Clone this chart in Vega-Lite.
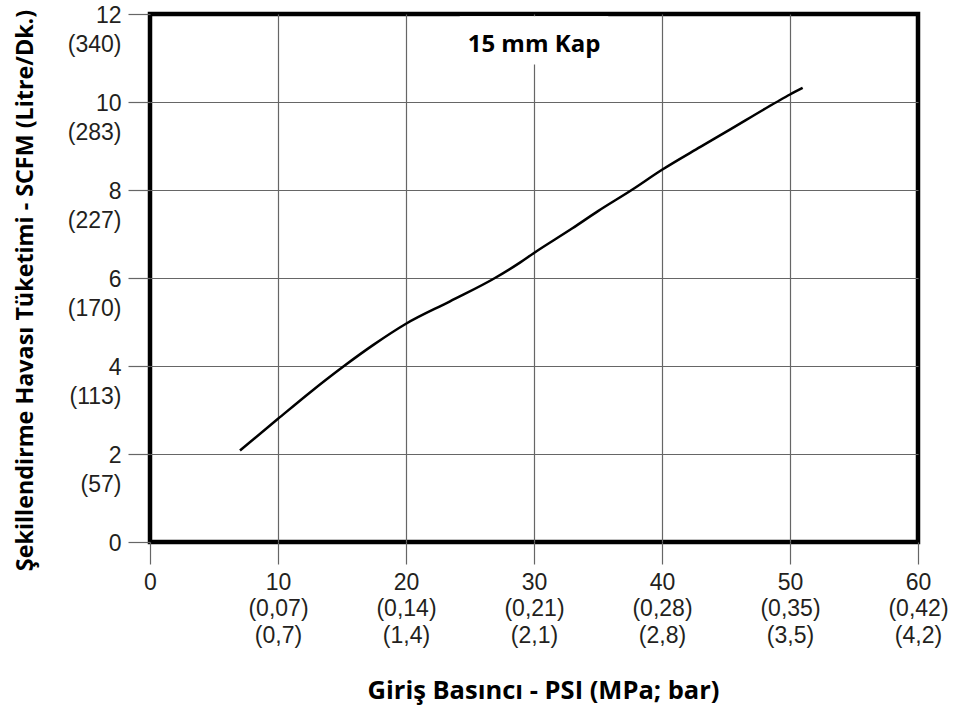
{
  "$schema": "https://vega.github.io/schema/vega-lite/v6.json",
  "width": 768,
  "height": 528,
  "autosize": {"type": "none"},
  "padding": {"left": 150, "top": 14, "right": 44, "bottom": 169},
  "background": "white",
  "config": {
    "view": {"stroke": "#000000", "strokeWidth": 4.5},
    "axis": {
      "gridColor": {"condition": {"test": "datum.value == 0 || datum.value == 60 || datum.value == 12", "value": "transparent"}, "value": "#666666"},
      "gridWidth": 1.2,
      "gridOpacity": 1,
      "tickColor": "#666666",
      "tickWidth": 1.2,
      "tickSize": 22,
      "domain": false,
      "labelFont": "Liberation Sans",
      "labelFontSize": 23,
      "labelColor": "#231f20",
      "titleFont": "Open Sans",
      "titleFontWeight": "bold",
      "titleColor": "#000000"
    }
  },
  "layer": [
    {
      "data": {"values": [{"x1": 24.2, "x2": 35.8, "y1": 10.85, "y2": 11.95}]},
      "mark": {"type": "rect", "fill": "white"},
      "encoding": {
        "x": {"field": "x1", "type": "quantitative"},
        "x2": {"field": "x2"},
        "y": {"field": "y1", "type": "quantitative"},
        "y2": {"field": "y2"}
      }
    },
    {
      "data": {"values": [
        {"psi": 7.03, "scfm": 2.08},
        {"psi": 10, "scfm": 2.8},
        {"psi": 12.5, "scfm": 3.4},
        {"psi": 15.16, "scfm": 4.0},
        {"psi": 17.45, "scfm": 4.48},
        {"psi": 20, "scfm": 4.96},
        {"psi": 23.44, "scfm": 5.47},
        {"psi": 26.95, "scfm": 6.0},
        {"psi": 28.9, "scfm": 6.35},
        {"psi": 30, "scfm": 6.57},
        {"psi": 33, "scfm": 7.13},
        {"psi": 35, "scfm": 7.52},
        {"psi": 37.63, "scfm": 8.0},
        {"psi": 40, "scfm": 8.46},
        {"psi": 43, "scfm": 8.98},
        {"psi": 45, "scfm": 9.32},
        {"psi": 48.96, "scfm": 10.0},
        {"psi": 50, "scfm": 10.17},
        {"psi": 50.99, "scfm": 10.32}
      ]},
      "mark": {"type": "line", "color": "#000000", "strokeWidth": 2.5, "interpolate": "monotone"},
      "encoding": {
        "x": {
          "field": "psi", "type": "quantitative",
          "scale": {"domain": [0, 60], "nice": false},
          "axis": {
            "values": [0, 10, 20, 30, 40, 50, 60],
            "title": "Giriş Basıncı - PSI (MPa; bar)",
            "titleFontSize": 25.5,
            "titleX": 393, "titleY": 148, "titleBaseline": "middle", "titleAlign": "center",
            "labelBaseline": "top",
            "labelPadding": 7,
            "labelLineHeight": 26.5,
            "labelFlush": false,
            "labelOverlap": false,
            "labelExpr": "datum.value == 10 ? ['10','(0,07)','(0,7)'] : datum.value == 20 ? ['20','(0,14)','(1,4)'] : datum.value == 30 ? ['30','(0,21)','(2,1)'] : datum.value == 40 ? ['40','(0,28)','(2,8)'] : datum.value == 50 ? ['50','(0,35)','(3,5)'] : datum.value == 60 ? ['60','(0,42)','(4,2)'] : '0'"
          }
        },
        "y": {
          "field": "scfm", "type": "quantitative",
          "scale": {"domain": [0, 12], "nice": false},
          "axis": {
            "values": [0, 2, 4, 6, 8, 10, 12],
            "title": "Şekillendirme Havası Tüketimi - SCFM (Litre/Dk.)",
            "titleFontSize": 23.3,
            "titleX": -125, "titleY": 276, "titleBaseline": "middle", "titleAlign": "center", "titleAngle": -90,
            "labelBaseline": "alphabetic",
            "labelOffset": 8,
            "labelPadding": 7,
            "labelLineHeight": 29,
            "labelFlush": false,
            "labelOverlap": false,
            "labelExpr": "datum.value == 2 ? ['2','(57)'] : datum.value == 4 ? ['4','(113)'] : datum.value == 6 ? ['6','(170)'] : datum.value == 8 ? ['8','(227)'] : datum.value == 10 ? ['10','(283)'] : datum.value == 12 ? ['12','(340)'] : '0'"
          }
        }
      }
    },
    {
      "data": {"values": [{"x": 30, "y": 11.3, "label": "15 mm Kap"}]},
      "mark": {"type": "text", "font": "Open Sans", "fontWeight": "bold", "fontSize": 24, "color": "#000000", "baseline": "middle", "align": "center"},
      "encoding": {
        "x": {"field": "x", "type": "quantitative"},
        "y": {"field": "y", "type": "quantitative"},
        "text": {"field": "label"}
      }
    }
  ]
}
